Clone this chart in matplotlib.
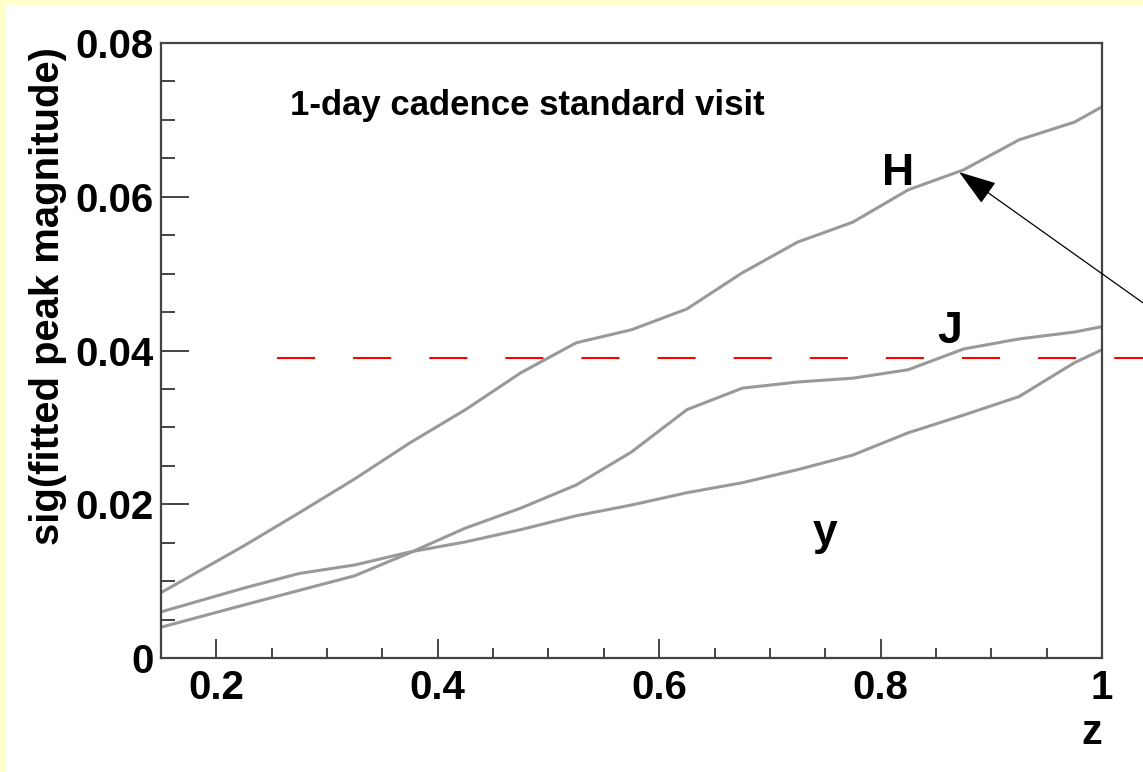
import matplotlib
matplotlib.use('Agg')
import matplotlib.pyplot as plt
from matplotlib.patches import Rectangle
from matplotlib.ticker import MultipleLocator

plt.rcParams['font.family'] = ['Liberation Sans', 'DejaVu Sans']
plt.rcParams['font.weight'] = 'bold'
plt.rcParams['lines.scale_dashes'] = False

# data
z = [0.15, 0.225, 0.275, 0.325, 0.375, 0.425, 0.475, 0.525, 0.575,
     0.625, 0.675, 0.725, 0.775, 0.825, 0.875, 0.925, 0.975, 1.0]
sig_H = [0.0085, 0.0146, 0.0189, 0.0233, 0.0280, 0.0323, 0.0371, 0.0410, 0.0427,
         0.0454, 0.0501, 0.0541, 0.0567, 0.0609, 0.0635, 0.0674, 0.0697, 0.0717]
sig_J = [0.0040, 0.0069, 0.0088, 0.0107, 0.0137, 0.0169, 0.0195, 0.0225, 0.0268,
         0.0323, 0.0351, 0.0359, 0.0364, 0.0375, 0.0402, 0.0415, 0.0424, 0.0431]
sig_y = [0.0060, 0.0091, 0.0110, 0.0121, 0.0138, 0.0151, 0.0167, 0.0185, 0.0199,
         0.0215, 0.0228, 0.0245, 0.0264, 0.0293, 0.0316, 0.0340, 0.0384, 0.0401]
threshold = 0.039
threshold_z = [0.255, 1.04]
labels = [('H', 0.816, 0.0630), ('J', 0.862, 0.0425), ('y', 0.75, 0.0162)]

W, H = 1143, 772
fig = plt.figure(figsize=(W / 100, H / 100), dpi=100, facecolor='#ffffcc')
fig.patches.append(Rectangle((6 / W, 0), 1, (H - 5) / H, transform=fig.transFigure,
                             facecolor='white', edgecolor='none', zorder=-5))

ax = fig.add_axes([161 / W, 1 - 658 / H, (1102 - 161) / W, (658 - 43) / H])
ax.set_facecolor('white')

for s in (sig_H, sig_J, sig_y):
    ax.plot(z, s, color='#999999', lw=2.2, solid_joinstyle='round')

ax.plot(threshold_z, [threshold, threshold], color='red', lw=1.5,
        linestyle=(0, (27.4, 27.4)), clip_on=False)

for txt, xx, yy in labels:
    ax.text(xx, yy, txt, fontsize=32, fontweight='bold', ha='center', va='center')

ax.annotate('', xy=(0.871, 0.0632), xytext=(1.037, 0.0462),
            xycoords='data', textcoords='data', annotation_clip=False,
            arrowprops=dict(arrowstyle='-|>,head_length=1.19,head_width=0.4',
                            color='black', lw=0.9, mutation_scale=20, shrinkA=0, shrinkB=0))

ax.text(0.137, 0.899, '1-day cadence standard visit', transform=ax.transAxes,
        fontsize=25, fontweight='bold', ha='left', va='center')

ax.set_xlim(0.15, 1.0)
ax.set_ylim(0, 0.08)
ax.xaxis.set_major_locator(MultipleLocator(0.2))
ax.xaxis.set_minor_locator(MultipleLocator(0.05))
ax.yaxis.set_major_locator(MultipleLocator(0.02))
ax.yaxis.set_minor_locator(MultipleLocator(0.005))
ax.xaxis.set_major_formatter(plt.FuncFormatter(lambda v, p: '0' if v == 0 else ('1' if abs(v - 1) < 1e-9 else f'{v:g}')))
ax.yaxis.set_major_formatter(plt.FuncFormatter(lambda v, p: '0' if v == 0 else f'{v:.2f}'))

for sp in ax.spines.values():
    sp.set_color('#444444')
    sp.set_linewidth(1.6)

ax.tick_params(axis='both', which='both', direction='in', colors='#444444',
               labelcolor='black', labelsize=29, width=1.4)
ax.tick_params(axis='x', which='major', length=14, pad=8)
ax.tick_params(axis='x', which='minor', length=7)
ax.tick_params(axis='y', which='major', length=20, pad=5)
ax.tick_params(axis='y', which='minor', length=10)
for lab in ax.get_xticklabels() + ax.get_yticklabels():
    lab.set_fontweight('bold')

ax.set_ylabel('sig(fitted peak magnitude)', fontsize=28.8, fontweight='bold', loc='top')
ax.yaxis.set_label_coords(-0.1, 0.994)
ax.set_xlabel('z', fontsize=30, fontweight='bold', loc='right')
ax.xaxis.set_label_coords(1.0, -0.089)

fig.savefig('out.png', dpi=100, facecolor=fig.get_facecolor())
